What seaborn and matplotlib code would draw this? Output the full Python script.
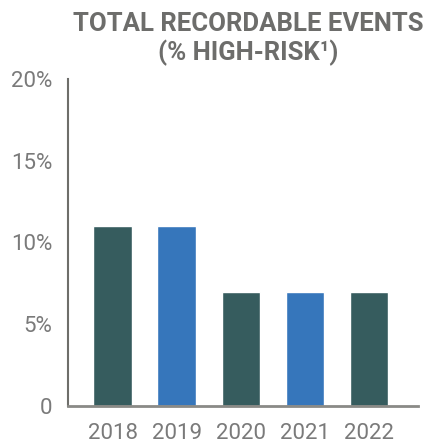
import pandas as pd
import matplotlib.pyplot as plt
import seaborn as sns

# chart data
years = ['2018', '2019', '2020', '2021', '2022']
high_risk = [0.11, 0.11, 0.07, 0.07, 0.07]
bar_colors = ['#365c5e', '#3676bb', '#365c5e', '#3676bb', '#365c5e']
y_ticks = [0, 0.05, 0.10, 0.15, 0.20]
y_labels = ['0', '5%', '10%', '15%', '20%']

df = pd.DataFrame({'Year': years, 'Share': high_risk})

sns.set_style('white')
plt.rcParams['font.family'] = ['Roboto', 'DejaVu Sans']

fig = plt.figure(figsize=(4.24, 4.43), dpi=100)
ax = fig.add_axes([0.160, 0.0835, 0.826, 0.7382])

sns.barplot(x='Year', y='Share', hue='Year', data=df, palette=bar_colors,
            width=0.6, legend=False, saturation=1, ax=ax)

axis_grey = '#6e6e6a'
ax.set_ylim(0, 0.20)
ax.set_xlim(-0.70, 4.77)
ax.set_yticks(y_ticks)
ax.set_yticklabels(y_labels, fontsize=16, color='#7a7a7a')
ax.set_xticks(range(len(years)))
ax.set_xticklabels(years, fontsize=16, color='#7a7a7a')
ax.tick_params(axis='y', direction='in', length=8, width=1.5, color=axis_grey, pad=11)
ax.tick_params(axis='x', length=0, pad=12)
ax.set_xlabel('')
ax.set_ylabel('')

for side in ['top', 'right']:
    ax.spines[side].set_visible(False)
ax.spines['left'].set_color(axis_grey)
ax.spines['left'].set_linewidth(1.5)
ax.spines['bottom'].set_color('#8a8a86')
ax.spines['bottom'].set_linewidth(2)

fig.text(0.585, 0.912, 'TOTAL RECORDABLE EVENTS\n(% HIGH-RISK¹)', ha='center', va='center',
         fontsize=18.5, fontweight='bold', color='#6d6d6b', linespacing=1.2)

fig.savefig('out.png', dpi=100)
